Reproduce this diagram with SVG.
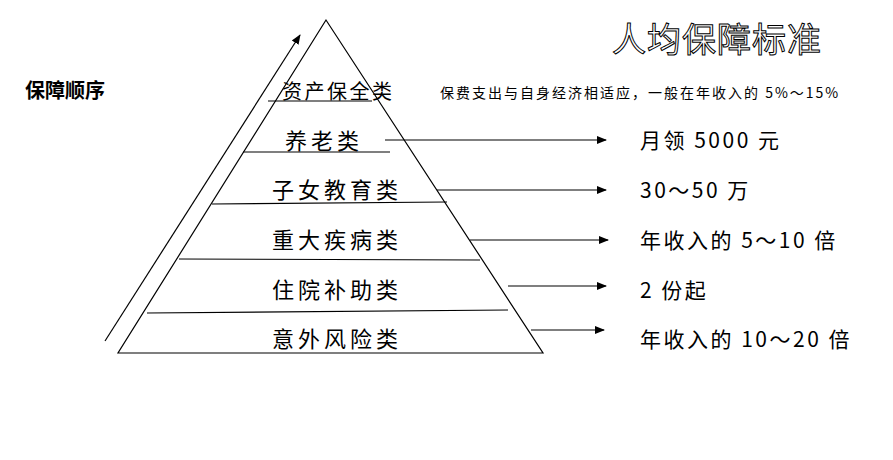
<svg xmlns="http://www.w3.org/2000/svg" width="893" height="460" viewBox="0 0 893 460">
<style>
text{font-family:"Noto Sans CJK SC",sans-serif;fill:#000}
.l{font-size:22px;letter-spacing:4px}
.r{font-size:21px;letter-spacing:2.5px}
line,polygon.t{stroke:#000;stroke-width:1.2;fill:none}
</style>
<defs><marker id="a" markerWidth="10" markerHeight="10" refX="9" refY="5" orient="auto" markerUnits="userSpaceOnUse"><path d="M0,1 L10,5 L0,9z" fill="#000"/></marker></defs>
<rect width="893" height="460" fill="#fff"/>
<g id="pyramid">
<polygon class="t" points="326,20 118,353 543,353"/>
<line x1="268" y1="101" x2="372" y2="101"/>
<line x1="243" y1="152" x2="390" y2="152"/>
<line x1="212" y1="204" x2="447" y2="202"/>
<line x1="179" y1="259" x2="480" y2="260"/>
<line x1="147" y1="313" x2="508" y2="310"/>
</g>
<g id="labels">
<text x="282" y="99" style="font-size:20px;letter-spacing:2.5px">资产保全类</text>
<text x="285" y="149" class="l">养老类</text>
<text x="272" y="198" class="l">子女教育类</text>
<text x="272" y="248" class="l">重大疾病类</text>
<text x="272" y="298" class="l">住院补助类</text>
<text x="272" y="347" class="l">意外风险类</text>
</g>
<g id="connectors">
<line x1="105" y1="341" x2="300" y2="35" marker-end="url(#a)"/>
<line x1="385" y1="140" x2="606" y2="140" marker-end="url(#a)"/>
<line x1="437" y1="190" x2="606" y2="190" marker-end="url(#a)"/>
<line x1="470" y1="240" x2="608" y2="240" marker-end="url(#a)"/>
<line x1="508" y1="286" x2="606" y2="286" marker-end="url(#a)"/>
<line x1="531" y1="330" x2="604" y2="330" marker-end="url(#a)"/>
</g>
<g id="right">
<text x="640" y="148" class="r">月领 5000 元</text>
<text x="640" y="198" class="r">30～50 万</text>
<text x="640" y="248" class="r">年收入的 5～10 倍</text>
<text x="640" y="298" class="r">2 份起</text>
<text x="640" y="347" class="r">年收入的 10～20 倍</text>
<text x="440" y="98" style="font-size:14px;letter-spacing:2px">保费支出与自身经济相适应，一般在年收入的 5%～15%</text>
<text x="25" y="98" style="font-size:20px;font-weight:bold">保障顺序</text>
<text x="612" y="52" style="font-size:34px;fill:#fff;stroke:#000;stroke-width:1;letter-spacing:1px">人均保障标准</text>
</g>
</svg>
